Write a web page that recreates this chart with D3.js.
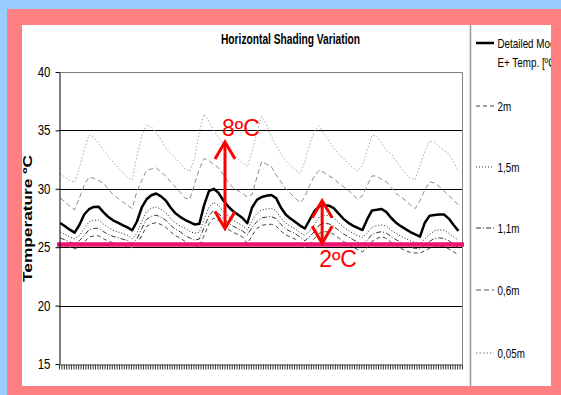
<!DOCTYPE html>
<html>
<head>
<meta charset="utf-8">
<script src="https://cdn.jsdelivr.net/npm/d3@7"></script>
<style>
  html, body { margin: 0; padding: 0; background: #99ccff; }
  svg { display: block; }
</style>
</head>
<body>
<svg id="chart" width="561" height="395"></svg>
<script>
// ---- data: one week of hourly simulation, sampled every 2 hours ----
const hours = d3.range(0, 168, 2);

const detailedModel = [
  27.07, 26.8, 26.5, 26.25, 26.9, 27.8, 28.25, 28.45, 28.47, 28.0, 27.6, 27.3,
  27.1, 26.9, 26.7, 26.45, 27.2, 28.4, 29.1, 29.45, 29.6, 29.35, 29.0, 28.4,
  27.9, 27.6, 27.35, 27.15, 26.95, 27.0, 28.6, 29.8, 30.0, 29.65, 29.0, 28.5,
  28.1, 27.8, 27.5, 27.05, 28.4, 29.05, 29.3, 29.4, 29.47, 29.2, 28.4, 27.8,
  27.45, 27.15, 26.85, 26.6, 27.35, 28.1, 28.5, 28.6, 28.55, 28.35, 27.9, 27.45,
  27.1, 26.85, 26.65, 26.47, 27.4, 28.15, 28.2, 28.27, 28.0, 27.5, 27.1, 26.8,
  26.55, 26.3, 26.1, 25.9, 27.1, 27.7, 27.75, 27.8, 27.8, 27.45, 26.9, 26.4
];
const shade2m = [
  25.26, 25.12, 24.98, 24.85, 25.05, 25.45, 25.86, 25.96, 25.97, 25.73, 25.53, 25.38,
  25.28, 25.18, 25.08, 24.95, 25.25, 26.0, 26.78, 27.0, 27.1, 26.94, 26.71, 26.32,
  25.99, 25.79, 25.5, 25.25, 25.0, 25.1, 26.0, 27.0, 27.5, 27.27, 26.86, 26.54,
  26.29, 26.09, 25.9, 25.3, 26.0, 26.6, 26.88, 26.93, 26.97, 26.82, 26.38, 26.06,
  25.86, 25.7, 25.2, 24.95, 25.3, 25.75, 26.2, 26.33, 26.3, 26.1, 25.8, 25.5,
  25.25, 25.0, 24.8, 24.6, 24.95, 25.5, 25.75, 25.9, 25.75, 25.4, 25.15, 24.9,
  24.7, 24.55, 24.5, 24.5, 24.7, 24.9, 25.05, 25.1, 25.05, 24.85, 24.6, 24.35
];
const shade15m = [
  26.3, 26.1, 25.88, 25.7, 26.0, 26.6, 27.16, 27.31, 27.32, 26.98, 26.68, 26.47,
  26.32, 26.17, 26.03, 25.7, 26.2, 27.2, 28.05, 28.33, 28.45, 28.25, 27.96, 27.48,
  27.07, 26.83, 26.63, 26.35, 26.2, 26.3, 27.4, 28.4, 28.85, 28.57, 28.05, 27.64,
  27.32, 27.08, 26.84, 26.48, 27.3, 27.9, 28.19, 28.27, 28.32, 28.12, 27.51, 27.06,
  26.8, 26.57, 26.25, 26.0, 26.4, 26.95, 27.6, 27.75, 27.7, 27.5, 27.1, 26.75,
  26.45, 26.2, 26.0, 25.85, 26.2, 26.7, 26.85, 26.9, 26.8, 26.45, 26.2, 25.95,
  25.75, 25.55, 25.4, 25.3, 25.7, 26.1, 26.4, 26.5, 26.45, 26.2, 25.9, 25.6
];
const shade11m = [
  25.79, 25.62, 25.45, 25.3, 25.55, 26.0, 26.49, 26.61, 26.62, 26.34, 26.1, 25.93,
  25.81, 25.69, 25.57, 25.3, 25.7, 26.6, 27.39, 27.64, 27.75, 27.57, 27.32, 26.89,
  26.54, 26.32, 26.0, 25.8, 25.6, 25.7, 26.7, 27.7, 28.15, 27.9, 27.45, 27.09,
  26.81, 26.6, 26.39, 26.07, 26.7, 27.2, 27.51, 27.58, 27.62, 27.45, 26.95, 26.57,
  26.35, 26.16, 25.85, 25.55, 25.9, 26.35, 26.9, 27.05, 27.0, 26.8, 26.45, 26.15,
  25.9, 25.65, 25.45, 25.3, 25.6, 26.1, 26.25, 26.33, 26.2, 25.9, 25.65, 25.4,
  25.2, 25.0, 24.9, 24.85, 25.2, 25.5, 25.75, 25.8, 25.75, 25.55, 25.25, 24.95
];
const shade06m = [
  29.2, 28.9, 28.5, 28.2, 29.2, 30.3, 31.0, 30.9, 30.7, 30.5, 30.0, 29.5,
  29.2, 28.9, 28.6, 28.3, 29.8, 30.7, 31.6, 31.7, 31.8, 31.45, 31.1, 30.6,
  30.15, 29.7, 29.2, 29.1, 30.4, 31.7, 32.6, 32.4, 32.1, 31.8, 31.2, 30.6,
  30.1, 29.85, 29.6, 29.3, 29.5, 31.0, 32.35, 32.1, 31.9, 31.2, 30.6, 30.0,
  29.6, 29.2, 28.8, 29.3, 30.3, 31.1, 31.6, 31.4, 31.1, 30.9, 30.5, 30.2,
  29.9, 29.5, 29.1, 29.4, 30.3, 31.1, 31.1, 30.8, 30.6, 30.1, 29.6, 29.3,
  29.0, 28.6, 28.3, 29.0, 29.9, 30.6, 30.5, 30.2, 29.8, 29.4, 29.04, 28.6
];
const shade005m = [
  31.3, 31.0, 30.7, 30.55, 31.8, 33.3, 34.6, 34.4, 33.9, 33.3, 32.8, 32.3,
  31.85, 31.4, 31.0, 30.75, 32.8, 34.5, 35.5, 35.3, 34.8, 34.2, 33.5, 33.0,
  32.6, 32.2, 31.7, 31.5, 32.6, 34.9, 36.4, 35.8, 35.0, 34.4, 33.9, 33.5,
  33.0, 32.6, 32.2, 31.9, 33.2, 34.8, 36.2, 35.5, 34.5, 33.7, 33.0, 32.4,
  32.0, 31.6, 31.3, 32.3, 33.8, 35.0, 35.4, 34.7, 34.1, 33.5, 33.0, 32.6,
  32.2, 31.8, 31.5, 32.0, 33.3, 34.6, 34.5, 33.9, 33.3, 33.0, 32.4, 31.8,
  31.3, 30.9, 30.8, 32.0, 33.2, 34.1, 34.0, 33.6, 33.3, 33.0, 32.3, 31.5
];

const seriesLabels = ["Detailed Model E+ Temp. [ºC]", "2m", "1,5m", "1,1m", "0,6m", "0,05m"];
const yTicks = [15, 20, 25, 30, 35, 40];
const comfortTemp = 25.23;
const spanNotes = [
  { hour: 68.7, low: 26.6, high: 34.0, label: "8ºC", side: "top" },
  { hour: 109.2, low: 25.33, high: 28.98, label: "2ºC", side: "bottom" }
];

// ---- styles ----
const styles = {
  "Detailed Model E+ Temp. [ºC]": { color: "#000", width: 2.5, dash: null, key: "#000" },
  "2m":    { color: "#444", width: 1, dash: "4,3", key: "#444" },
  "1,5m":  { color: "#222", width: 1, dash: "1,2", key: "#222" },
  "1,1m":  { color: "#333", width: 1, dash: "5,2,1,2", key: "#333" },
  "0,6m":  { color: "#8c8c8c", width: 1, dash: "5,3", key: "#555" },
  "0,05m": { color: "#a8a8a8", width: 1, dash: "1.5,2", key: "#777" }
};
const seriesValues = {
  "Detailed Model E+ Temp. [ºC]": detailedModel,
  "2m": shade2m, "1,5m": shade15m, "1,1m": shade11m, "0,6m": shade06m, "0,05m": shade005m
};

const W = 561, H = 395;
const font = "'Liberation Sans', Arial, sans-serif";
const svg = d3.select("#chart");

// page background and white panel
svg.append("rect").attr("width", W).attr("height", H).attr("fill", "#99ccff");
svg.append("rect").attr("x", 22).attr("y", 25).attr("width", 529).attr("height", 361).attr("fill", "#fff");

const x = d3.scaleLinear().domain([-0.5, 167.5]).range([59, 462]);
const y = d3.scaleLinear().domain([15, 40]).range([364, 72]);

// title
svg.append("text")
  .attr("x", 290.5).attr("y", 43.5)
  .attr("text-anchor", "middle")
  .attr("font-family", font).attr("font-weight", "bold").attr("font-size", 14)
  .attr("textLength", 139).attr("lengthAdjust", "spacingAndGlyphs")
  .text("Horizontal Shading Variation");

// y axis title
svg.append("text")
  .attr("transform", "translate(32,218.5) rotate(-90)")
  .attr("text-anchor", "middle")
  .attr("font-family", font).attr("font-weight", "bold").attr("font-size", 13)
  .attr("textLength", 127).attr("lengthAdjust", "spacingAndGlyphs")
  .text("Temperature ºC");

const plot = svg.append("g");

// horizontal gridlines
plot.selectAll("line.grid")
  .data(yTicks.filter(v => v > 15 && v < 40))
  .join("line")
  .attr("x1", x.range()[0]).attr("x2", x.range()[1])
  .attr("y1", d => Math.round(y(d)) + 0.5).attr("y2", d => Math.round(y(d)) + 0.5)
  .attr("stroke", "#000").attr("stroke-width", 1);

// plot box (top and right edges)
plot.append("path")
  .attr("d", `M${x.range()[0]},${Math.round(y(40)) + 0.5}H${Math.round(x.range()[1]) + 0.5}V${y(15)}`)
  .attr("fill", "none").attr("stroke", "#808080").attr("stroke-width", 1);

// series lines, the detailed model last so it sits on top
const line = d3.line().x((d, i) => x(hours[i])).y(d => y(d));
const drawOrder = ["0,05m", "0,6m", "2m", "1,1m", "1,5m", "Detailed Model E+ Temp. [ºC]"];
plot.selectAll("path.series")
  .data(drawOrder)
  .join("path")
  .attr("class", "series")
  .attr("d", k => line(seriesValues[k]))
  .attr("fill", "none")
  .attr("stroke", k => styles[k].color)
  .attr("stroke-width", k => styles[k].width)
  .attr("stroke-dasharray", k => styles[k].dash)
  .attr("stroke-linejoin", "round");

// comfort reference line
plot.append("line")
  .attr("x1", x.range()[0] - 2).attr("x2", x.range()[1] + 2)
  .attr("y1", y(comfortTemp)).attr("y2", y(comfortTemp))
  .attr("stroke", "#f0136f").attr("stroke-width", 4.5);

// axes
const yAxis = plot.append("g")
  .attr("transform", `translate(${x.range()[0] + 0.5},0)`)
  .call(d3.axisLeft(y).tickValues(yTicks).tickSize(4).tickSizeOuter(0).tickFormat(""));
yAxis.selectAll("path,line").attr("stroke", "#000");

const xAxis = plot.append("g")
  .attr("transform", `translate(0,${y(15) + 0.5})`)
  .call(d3.axisBottom(x).tickValues(d3.range(-0.5, 168, 1)).tickSize(5).tickSizeOuter(0).tickFormat(""));
xAxis.selectAll("path").attr("stroke", "#555");
xAxis.selectAll("line").attr("stroke", "#333");

// y tick labels (narrow)
plot.selectAll("text.ytick")
  .data(yTicks)
  .join("text")
  .attr("transform", d => `translate(50.5,${y(d) + 5}) scale(0.82,1)`)
  .attr("text-anchor", "end")
  .attr("font-family", font).attr("font-size", 14)
  .text(d => d);

// temperature-span annotations
const notes = plot.selectAll("g.note").data(spanNotes).join("g").attr("class", "note");
notes.each(function (d) {
  const g = d3.select(this);
  const ax = x(d.hour), yTop = y(d.high), yBot = y(d.low);
  const red = "#ff0000";
  g.append("line").attr("x1", ax).attr("x2", ax).attr("y1", yTop + 1).attr("y2", yBot - 1)
    .attr("stroke", red).attr("stroke-width", 3);
  g.append("path")
    .attr("d", `M${ax - 10},${yTop + 17}L${ax},${yTop}L${ax + 10},${yTop + 17}`)
    .attr("fill", "none").attr("stroke", red).attr("stroke-width", 3);
  g.append("path")
    .attr("d", `M${ax - 10},${yBot - 17}L${ax},${yBot}L${ax + 10},${yBot - 17}`)
    .attr("fill", "none").attr("stroke", red).attr("stroke-width", 3);
  g.append("text")
    .attr("x", ax - 3)
    .attr("y", d.side === "top" ? yTop - 6.5 : yBot + 23.5)
    .attr("font-family", font).attr("font-size", 23)
    .attr("fill", red)
    .text(d.label);
});

// legend
svg.append("line").attr("x1", 470.5).attr("x2", 470.5).attr("y1", 25).attr("y2", 386)
  .attr("stroke", "#999").attr("stroke-width", 1.5);

const legendRows = [
  { key: seriesLabels[0], cy: 43, lines: ["Detailed Model", "E+ Temp. [ºC]"] },
  { key: seriesLabels[1], cy: 106, lines: [seriesLabels[1]] },
  { key: seriesLabels[2], cy: 167, lines: [seriesLabels[2]] },
  { key: seriesLabels[3], cy: 228, lines: [seriesLabels[3]] },
  { key: seriesLabels[4], cy: 290, lines: [seriesLabels[4]] },
  { key: seriesLabels[5], cy: 353, lines: [seriesLabels[5]] }
];
const leg = svg.selectAll("g.leg").data(legendRows).join("g").attr("class", "leg");
leg.append("line")
  .attr("x1", 476).attr("x2", 494)
  .attr("y1", d => d.cy).attr("y2", d => d.cy)
  .attr("stroke", d => styles[d.key].key)
  .attr("stroke-width", d => styles[d.key].width)
  .attr("stroke-dasharray", d => styles[d.key].dash);
leg.each(function (d) {
  d3.select(this).selectAll("text")
    .data(d.lines)
    .join("text")
    .attr("transform", (t, i) => `translate(497.5,${d.cy + 4.5 + i * 19}) scale(0.82,1)`)
    .attr("font-family", font).attr("font-size", 12)
    .text(t => t);
});

// outer frame drawn last so it trims the legend text at the panel edge
svg.append("path")
  .attr("d", "M7,9H561V395H7Z M22,25V386H551V25Z")
  .attr("fill", "#ff8080").attr("fill-rule", "evenodd");
</script>
</body>
</html>
